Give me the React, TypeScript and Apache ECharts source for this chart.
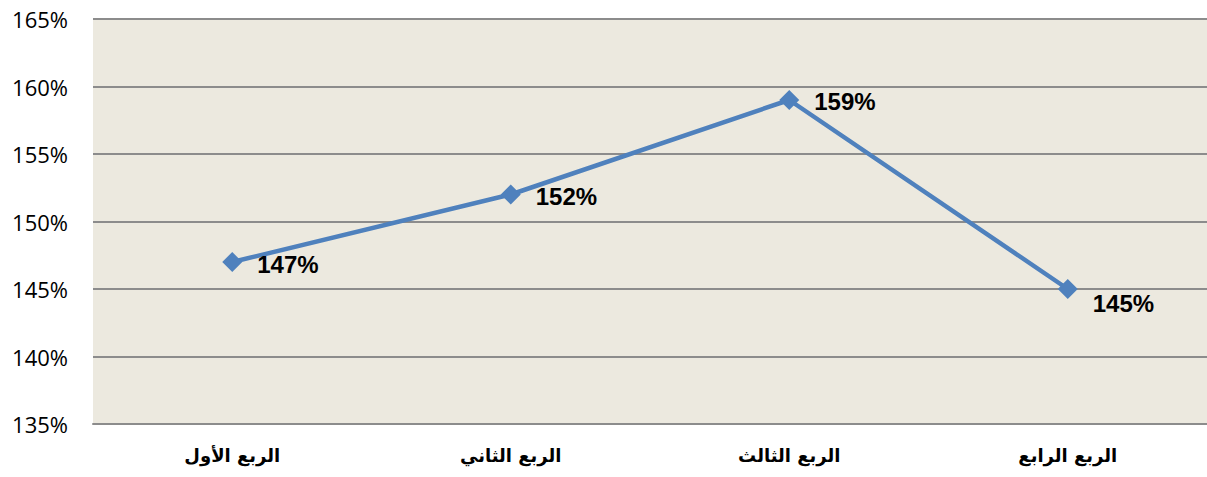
import React, { useEffect, useRef } from "react";
import * as echarts from "echarts";

const categories = ["الربع الأول", "الربع الثاني", "الربع الثالث", "الربع الرابع"];
const values = [147, 152, 159, 145];
const yMin = 135;
const yMax = 165;
const yStep = 5;
// per-point label nudges (styling only)
const labelNudgeY = [2, 2, 1, 14];

export default function App() {
  const ref = useRef<HTMLDivElement>(null);
  useEffect(() => {
    if (!ref.current) return;
    const chart = echarts.init(ref.current, undefined, { renderer: "svg" });
    chart.setOption({
      animation: false,
      backgroundColor: "#ffffff",
      grid: { left: 93, top: 19, width: 1119, height: 405, show: true, backgroundColor: "#ECE9DF", borderWidth: 0 },
      xAxis: {
        type: "category",
        data: categories,
        boundaryGap: true,
        axisLine: { show: true, lineStyle: { color: "#8C8C8C", width: 2 } },
        axisTick: { show: false },
        axisLabel: { color: "#000", fontSize: 18, fontWeight: "bold", fontFamily: "DejaVu Sans", margin: 22 },
      },
      yAxis: {
        type: "value",
        min: yMin,
        max: yMax,
        interval: yStep,
        axisLine: { show: false },
        axisTick: { show: false },
        splitLine: { show: true, lineStyle: { color: "#8C8C8C", width: 2 } },
        axisLabel: { color: "#000", fontSize: 22, fontFamily: "Open Sans", margin: 25, formatter: "{value}%" },
      },
      series: [
        {
          type: "line",
          data: values.map((v, i) => ({ value: v, label: { offset: [0, labelNudgeY[i]] } })),
          symbol: "diamond",
          symbolSize: 20,
          itemStyle: { color: "#4F81BD" },
          lineStyle: { color: "#4F81BD", width: 4.5 },
          label: {
            show: true,
            position: "right",
            distance: 15,
            formatter: "{c}%",
            color: "#000",
            fontSize: 24,
            fontWeight: "bold",
            fontFamily: "Liberation Sans",
          },
        },
      ],
    });
    return () => chart.dispose();
  }, []);
  return <div ref={ref} style={{ position: "fixed", left: 0, top: 0, width: 1207, height: 477 }} />;
}
